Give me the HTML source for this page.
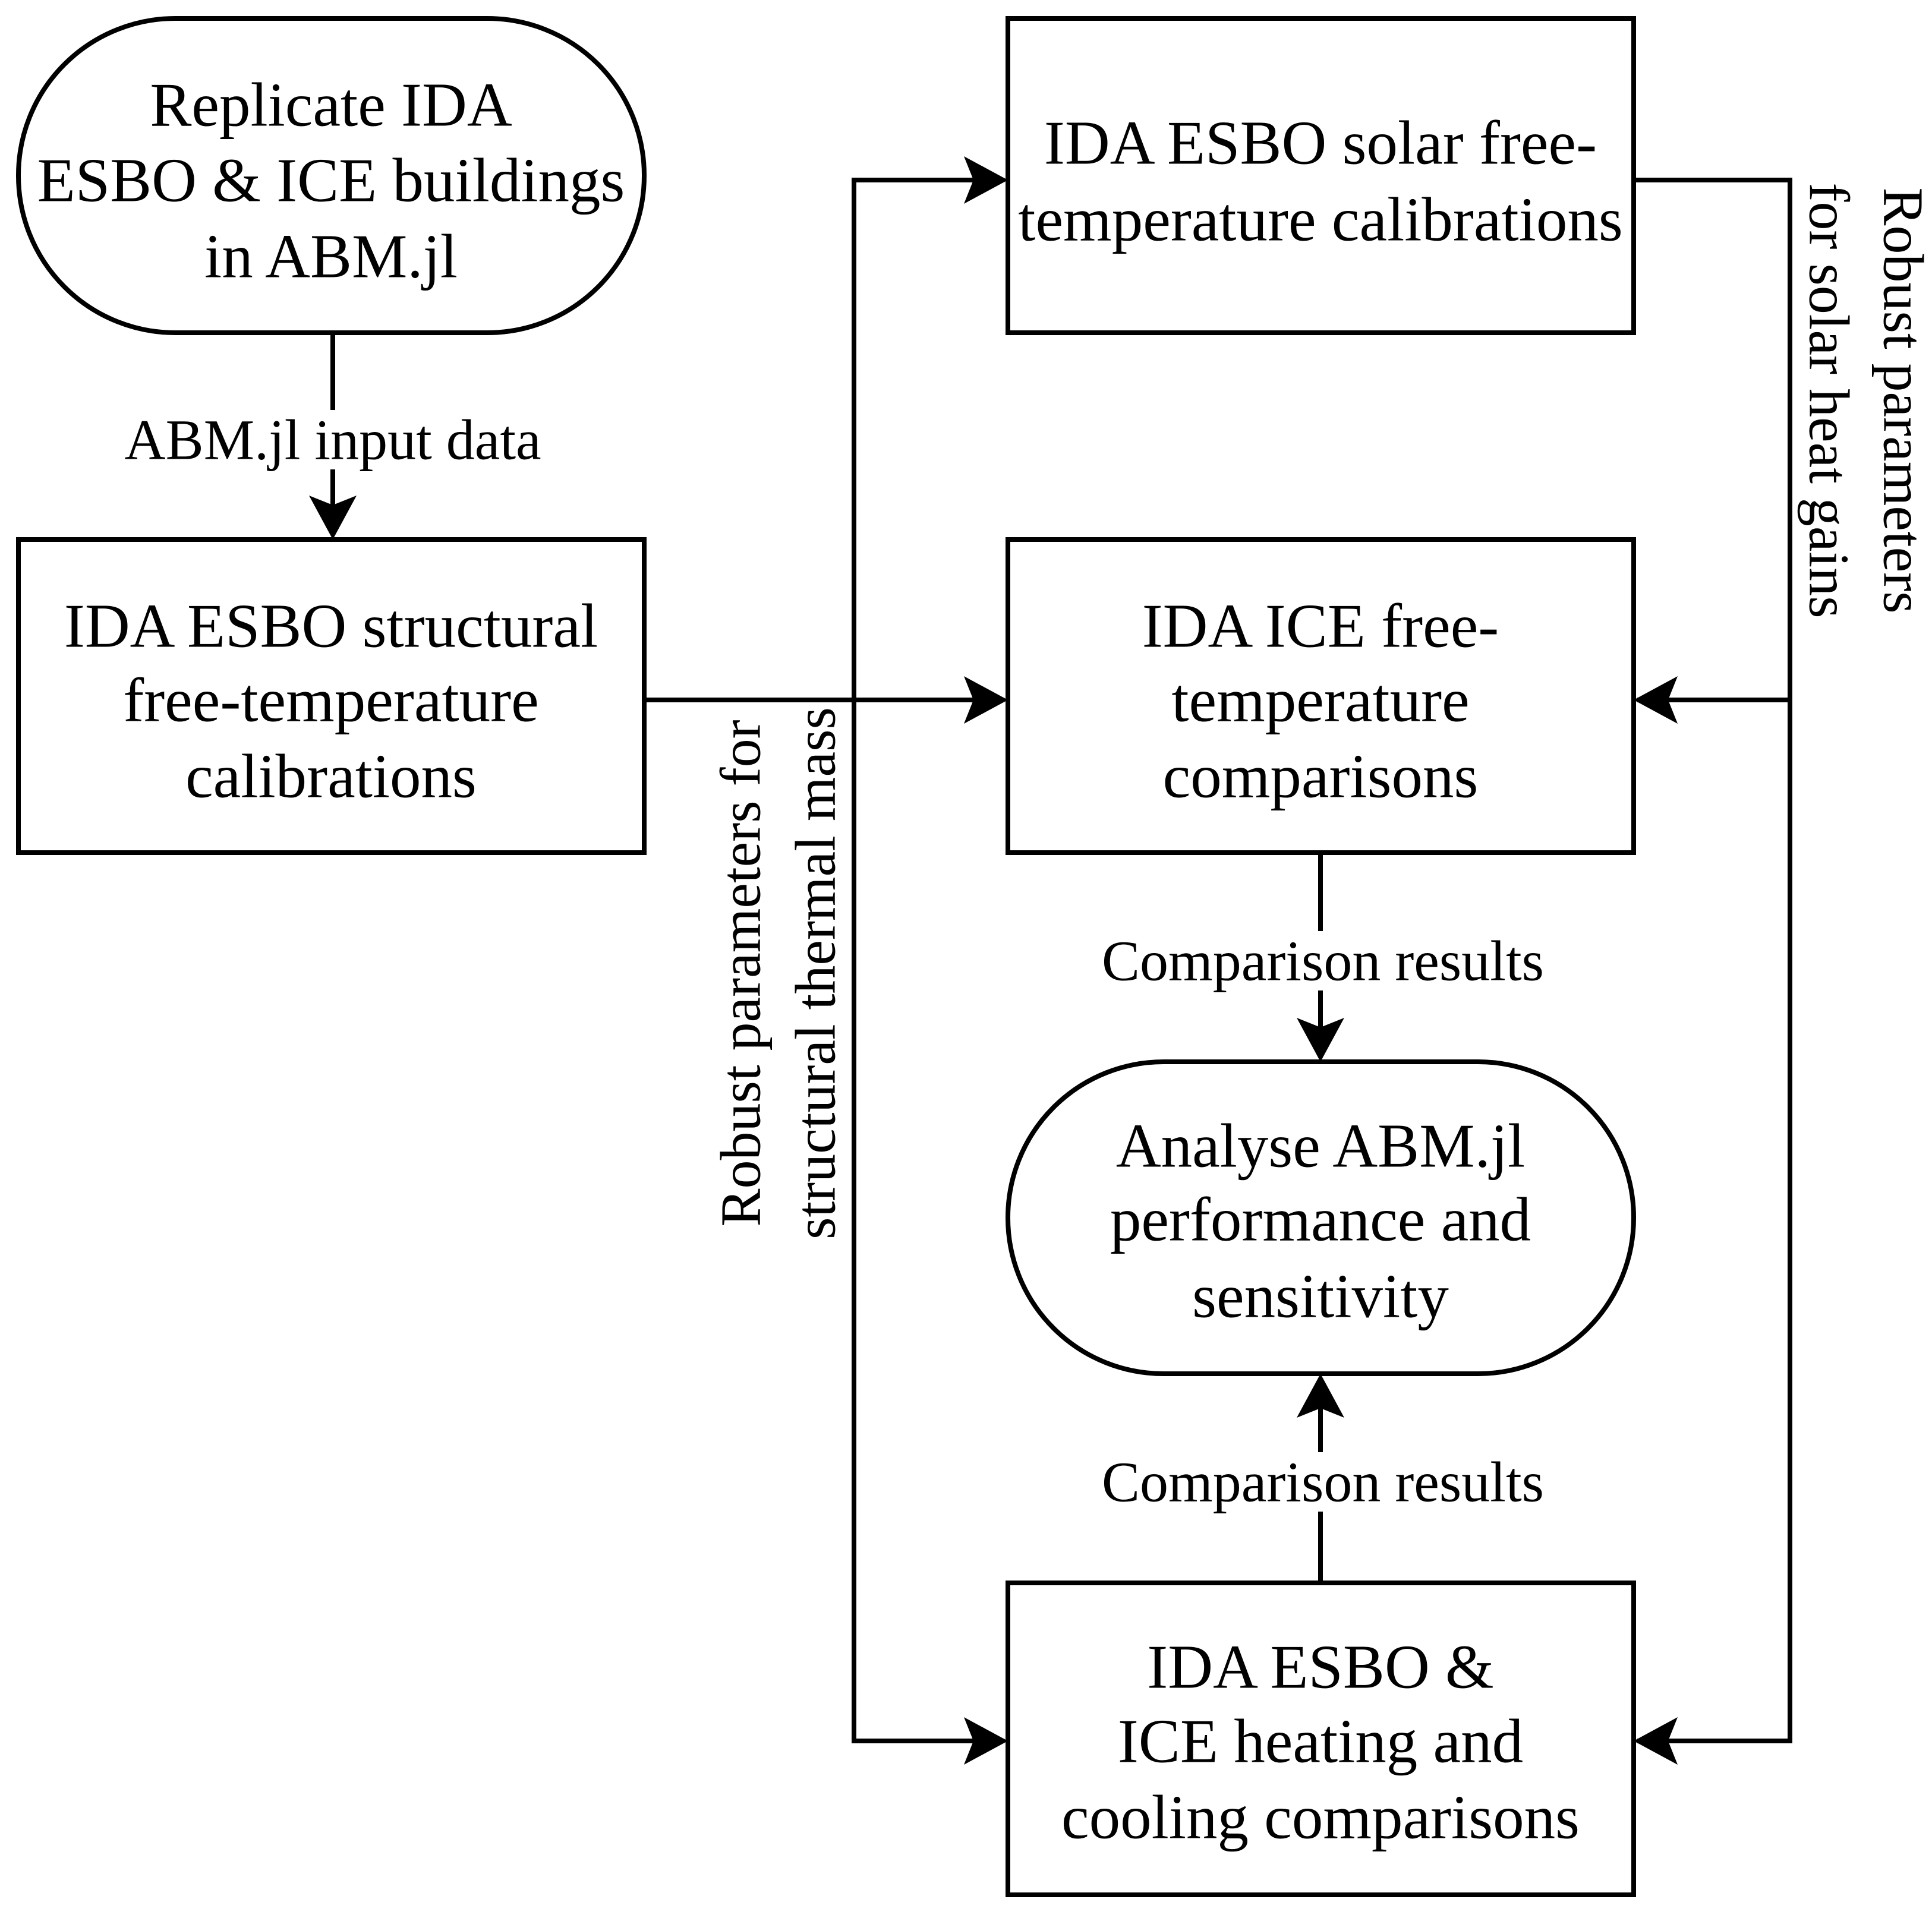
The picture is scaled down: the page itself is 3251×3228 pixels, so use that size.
<!DOCTYPE html>
<html><head><meta charset="utf-8"><style>
html,body{margin:0;padding:0;background:#fff}
svg{display:block}
text{font-family:"Liberation Serif",serif;fill:#000}
</style></head><body>
<svg width="3251" height="3228" viewBox="0 0 3251 3228" xmlns="http://www.w3.org/2000/svg">
<defs>
<path id="ah" d="M0,0 L-74,-40 L-58,0 L-74,40 Z" fill="#000"/>
</defs>
<g fill="none" stroke="#000" stroke-width="8">
<rect x="31" y="31" width="1053" height="529" rx="264" ry="264" fill="#fff"/>
<rect x="31" y="908" width="1053" height="527" fill="#fff"/>
<rect x="1696" y="31" width="1053" height="529" fill="#fff"/>
<rect x="1696" y="908" width="1053" height="527" fill="#fff"/>
<rect x="1696" y="1787" width="1053" height="525" rx="262" ry="262" fill="#fff"/>
<rect x="1696" y="2664" width="1053" height="525" fill="#fff"/>
<line x1="560" y1="560" x2="560" y2="900"/>
<line x1="1084" y1="1178" x2="1690" y2="1178"/>
<polyline points="1690,303 1437,303 1437,2930 1690,2930"/>
<polyline points="2749,303 3012,303 3012,2930 2755,2930"/>
<line x1="3012" y1="1178" x2="2755" y2="1178"/>
<line x1="2222" y1="1435" x2="2222" y2="1780"/>
<line x1="2222" y1="2664" x2="2222" y2="2320"/>
</g>
<rect x="190" y="690" width="740" height="100" fill="#fff"/>
<rect x="1840" y="1567" width="770" height="100" fill="#fff"/>
<rect x="1840" y="2444" width="770" height="100" fill="#fff"/>
<use href="#ah" transform="translate(560,908) rotate(90)"/>
<use href="#ah" transform="translate(1696,1178)"/>
<use href="#ah" transform="translate(1696,303)"/>
<use href="#ah" transform="translate(1696,2930)"/>
<use href="#ah" transform="translate(2749,1178) rotate(180)"/>
<use href="#ah" transform="translate(2749,2930) rotate(180)"/>
<use href="#ah" transform="translate(2222,1787) rotate(90)"/>
<use href="#ah" transform="translate(2222,2312) rotate(-90)"/>
<g font-size="105" text-anchor="middle" dominant-baseline="central">
<text x="557" y="176">Replicate IDA</text>
<text x="557" y="303">ESBO &amp; ICE buildings</text>
<text x="557" y="431">in ABM.jl</text>
<text x="557" y="1053">IDA ESBO structural</text>
<text x="557" y="1178">free-temperature</text>
<text x="557" y="1306">calibrations</text>
<text x="2222" y="240">IDA ESBO solar free-</text>
<text x="2222" y="369">temperature calibrations</text>
<text x="2222" y="1053">IDA ICE free-</text>
<text x="2222" y="1178">temperature</text>
<text x="2222" y="1306">comparisons</text>
<text x="2222" y="1928">Analyse ABM.jl</text>
<text x="2222" y="2052">performance and</text>
<text x="2222" y="2181">sensitivity</text>
<text x="2222" y="2805">IDA ESBO &amp;</text>
<text x="2222" y="2930">ICE heating and</text>
<text x="2222" y="3058">cooling comparisons</text>
</g>
<g font-size="96" text-anchor="middle" dominant-baseline="central">
<text x="560" y="740">ABM.jl input data</text>
<text x="2226" y="1617">Comparison results</text>
<text x="2226" y="2494">Comparison results</text>
<text transform="translate(1246,1638) rotate(-90)">Robust parameters for</text>
<text transform="translate(1372,1638) rotate(-90)">structural thermal mass</text>
<text transform="translate(3203,674) rotate(90)">Robust parameters</text>
<text transform="translate(3078,674) rotate(90)">for solar heat gains</text>
</g>
</svg>
</body></html>
